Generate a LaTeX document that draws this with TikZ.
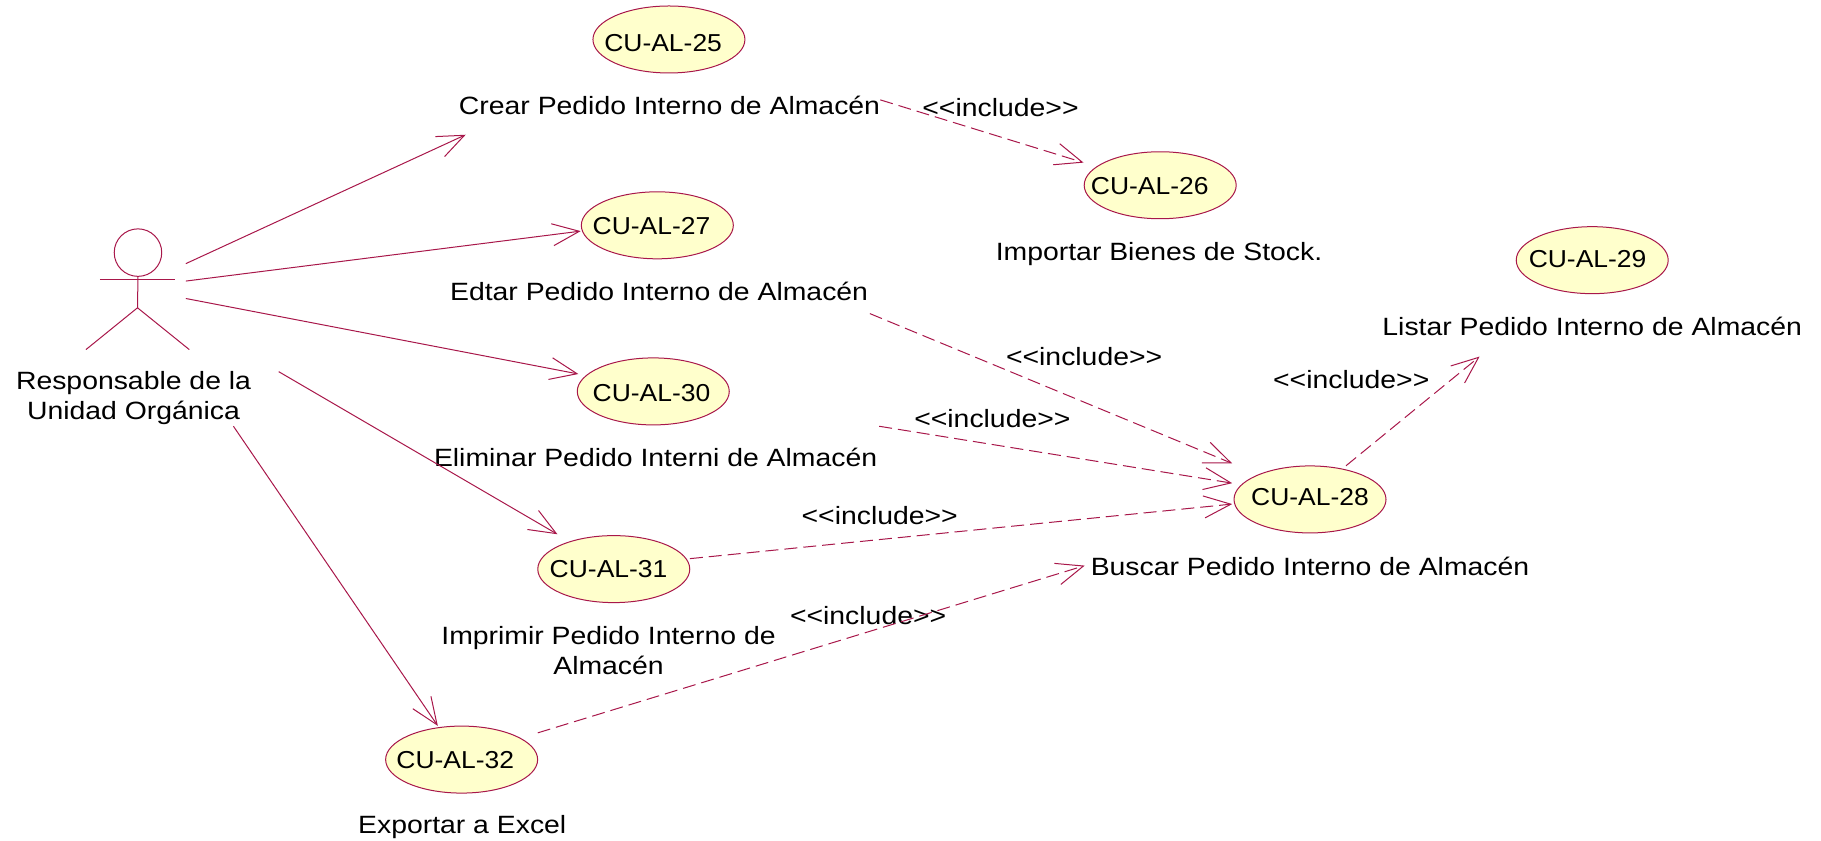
\documentclass[tikz,border=0pt]{standalone}
\usepackage{fontspec}
\setmainfont{Liberation Sans}
\newfontfamily\lblfont[FakeStretch=1.135]{Liberation Sans}
\newfontfamily\ucfont[FakeStretch=1.08]{Liberation Sans}
\usetikzlibrary{arrows.meta,shapes.geometric}
\definecolor{rose}{HTML}{A8174A}
\definecolor{ucfill}{HTML}{FFFFCC}
\tikzset{
  uc/.style={ellipse,draw=rose,fill=ucfill,line width=1pt,minimum width=152pt,minimum height=67pt,inner sep=0pt},
  uctext/.style={font=\fontsize{24.5}{24.5}\selectfont\ucfont,text=black,inner sep=0pt},
  lbl/.style={font=\fontsize{25}{30}\selectfont\lblfont,text=black,inner sep=0pt,align=center},
  assoc/.style={draw=rose,line width=1pt,-{Straight Barb[length=27pt,width=22pt,line width=1pt]}},
  incl/.style={assoc,dash pattern=on 13pt off 6pt},
  limb/.style={draw=rose,line width=1pt}
}
\begin{document}
\begin{tikzpicture}[x=1.1614pt,y=-1.1615pt]
\useasboundingbox (0,0) rectangle (1568,724);
% actor
\node[circle,draw=rose,line width=1pt,minimum size=47.5pt,inner sep=0pt] (head) at (118.8,217.5) {};
\coordinate (hip) at (118.4,265);
\coordinate (armL) at (86,241);
\coordinate (armR) at (151,241);
\coordinate (footL) at (74,301);
\coordinate (footR) at (163,301);
\draw[limb] (head.south) -- (hip);
\draw[limb] (armL) -- (armR);
\draw[limb] (footL) -- (hip) -- (footR);
% use cases
\node[uc] (u25) at (576,34) {};
\node[uc] (u26) at (999,159.5) {};
\node[uc] (u27) at (566,194) {};
\node[uc] (u29) at (1371,224) {};
\node[uc] (u30) at (562.5,337) {};
\node[uc] (u28) at (1128,430) {};
\node[uc] (u31) at (528.5,490) {};
\node[uc] (u32) at (397.5,654) {};
\node[uctext] (t25) at (571,37) {CU-AL-25};
\node[uctext] (t26) at (990,160) {CU-AL-26};
\node[uctext] (t27) at (561,195) {CU-AL-27};
\node[uctext] (t29) at (1367,223) {CU-AL-29};
\node[uctext] (t30) at (561,338) {CU-AL-30};
\node[uctext] (t28) at (1128,428) {CU-AL-28};
\node[uctext] (t31) at (524,490) {CU-AL-31};
\node[uctext] (t32) at (392,654) {CU-AL-32};
% labels
\node[lbl] (lActor) at (115,343) {Responsable de la\\Unidad Orgánica};
\node[lbl] (l25) at (576.5,91) {Crear Pedido Interno de Almacén};
\node[lbl] (l26) at (998,218.5) {Importar Bienes de Stock.};
\node[lbl] (l27) at (567.5,251) {Edtar Pedido Interno de Almacén};
\node[lbl] (l29) at (1371,281) {Listar Pedido Interno de Almacén};
\node[lbl] (l30) at (564.5,394) {Eliminar Pedido Interni de Almacén};
\node[lbl] (l28) at (1128,488) {Buscar Pedido Interno de Almacén};
\node[lbl] (l31) at (524,560) {Imprimir Pedido Interno de\\Almacén};
\node[lbl] (l32) at (398,712) {Exportar a Excel};
% include labels
\node[lbl] (i1) at (861.5,93) {<{}<include>{}>};
\node[lbl] (i2) at (933.5,307) {<{}<include>{}>};
\node[lbl] (i3) at (1163.5,327) {<{}<include>{}>};
\node[lbl] (i4) at (854.5,360) {<{}<include>{}>};
\node[lbl] (i5) at (757.5,444) {<{}<include>{}>};
\node[lbl] (i6) at (747.5,530) {<{}<include>{}>};
% connector ends
\coordinate (a1) at (160,227); \coordinate (b1) at (401,116);
\coordinate (a2) at (160,242); \coordinate (b2) at (500,199);
\coordinate (a3) at (160,257); \coordinate (b3) at (498,322);
\coordinate (a4) at (240,320); \coordinate (b4) at (480,460);
\coordinate (a5) at (201,367); \coordinate (b5) at (377,625);
\coordinate (c1) at (758,86);  \coordinate (d1) at (933,140);
\coordinate (c2) at (749,270); \coordinate (d2) at (1061,399);
\coordinate (c3) at (757,367); \coordinate (d3) at (1061,416);
\coordinate (c4) at (594,481); \coordinate (d4) at (1061,434);
\coordinate (c5) at (1159,401);\coordinate (d5) at (1274,307);
\coordinate (c6) at (463,631); \coordinate (d6) at (934,487);
\draw[assoc] (a1) -- (b1);
\draw[assoc] (a2) -- (b2);
\draw[assoc] (a3) -- (b3);
\draw[assoc] (a4) -- (b4);
\draw[assoc] (a5) -- (b5);
\draw[incl] (c1) -- (d1);
\draw[incl] (c2) -- (d2);
\draw[incl] (c3) -- (d3);
\draw[incl] (c4) -- (d4);
\draw[incl] (c5) -- (d5);
\draw[incl] (c6) -- (d6);
\end{tikzpicture}
\end{document}
